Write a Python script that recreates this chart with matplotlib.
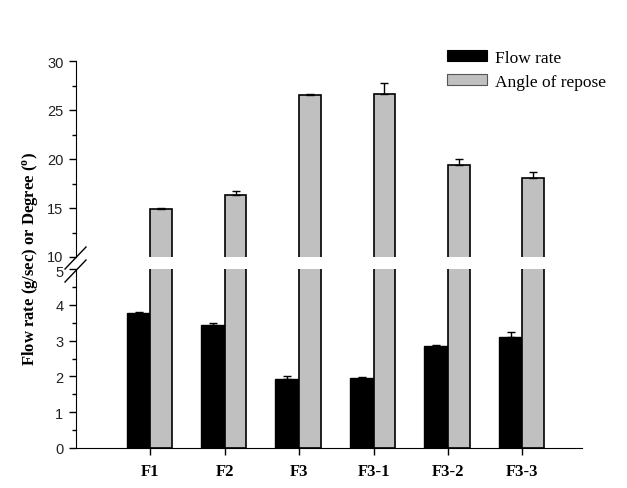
import numpy as np
import matplotlib
matplotlib.use('Agg')
from matplotlib import pyplot as plt
from matplotlib.lines import Line2D
from matplotlib.transforms import ScaledTranslation

categories = ['F1', 'F2', 'F3', 'F3-1', 'F3-2', 'F3-3']
flow_rate = [3.76, 3.43, 1.94, 1.95, 2.84, 3.11]
flow_err = [0.03, 0.07, 0.07, 0.02, 0.05, 0.13]
angle = [14.9, 16.3, 26.55, 26.65, 19.35, 18.05]
angle_err = [0.05, 0.48, 0.05, 1.1, 0.6, 0.6]

W, H = 627, 489
fig = plt.figure(figsize=(W/100, H/100), dpi=100)

def px_box(l, t, r, b):
    return [l/W, 1-b/H, (r-l)/W, (b-t)/H]

ax_top = fig.add_axes(px_box(76, 62, 582, 258))
ax_bot = fig.add_axes(px_box(76, 270, 582, 449))

x = np.arange(len(categories))
gray = '#c0c0c0'
serif_b = dict(family='Liberation Serif', size=12, weight='bold')

for ax in (ax_top, ax_bot):
    ax.bar(x, flow_rate, width=-0.32, align='edge', color='black', edgecolor='black', linewidth=1.0)
    ax.bar(x, angle, width=0.29, align='edge', color=gray, edgecolor='black', linewidth=1.2)
    ax.errorbar(x - 0.16, flow_rate, yerr=[np.zeros(len(x)), flow_err], fmt='none',
                ecolor='black', elinewidth=1.0, capsize=3.2, capthick=1.0)
    ax.errorbar(x + 0.145, angle, yerr=[np.zeros(len(x)), angle_err], fmt='none',
                ecolor='black', elinewidth=1.0, capsize=3.2, capthick=1.0)
    ax.set_xlim(-1.0, 5.8)
    ax.spines['top'].set_visible(False)
    ax.spines['right'].set_visible(False)
    ax.tick_params(axis='y', which='major', direction='out', length=5, width=1, labelsize=10.5,
                   labelcolor='#222222', pad=4)
    ax.tick_params(axis='y', which='minor', direction='out', length=3, width=1)

ax_top.set_ylim(10, 30)
ax_top.set_yticks([10, 15, 20, 25, 30])
ax_top.set_yticks([12.5, 17.5, 22.5, 27.5], minor=True)
ax_top.spines['bottom'].set_visible(False)
ax_top.set_xticks([])

ax_bot.set_ylim(0, 5)
ax_bot.set_yticks([0, 1, 2, 3, 4, 5])
ax_bot.set_yticks(np.arange(0.5, 5, 1.0), minor=True)
ax_bot.set_xticks(x)
ax_bot.set_xticklabels(categories, fontdict=serif_b)
ax_bot.tick_params(axis='x', direction='out', length=5, width=1, pad=6)

for ax in (ax_top, ax_bot):
    for lab in ax.get_yticklabels():
        lab.set_fontfamily('Liberation Sans')

# nudge the "10" and "5" labels apart a little, as in the original
lab10 = ax_top.yaxis.get_major_ticks()[0].label1
lab10.set_transform(lab10.get_transform() + ScaledTranslation(0, 1.5/100, fig.dpi_scale_trans))
lab5 = ax_bot.yaxis.get_major_ticks()[-1].label1
lab5.set_transform(lab5.get_transform() + ScaledTranslation(0, -1.5/100, fig.dpi_scale_trans))

# break marks on the y axis
for yc in (259, 272):
    fig.add_artist(Line2D([65/W, 86/W], [1-(yc+11)/H, 1-(yc-11)/H], color='black', lw=1.0))

fig.text(30/W, 1-259/H, 'Flow rate (g/sec) or Degree ($\\mathregular{^{o}}$)', rotation=90,
         ha='center', va='center', fontfamily='Liberation Serif', fontsize=12, fontweight='bold')

handles = [plt.Rectangle((0, 0), 1, 1, facecolor='black', edgecolor='black', lw=0.8),
           plt.Rectangle((0, 0), 1, 1, facecolor=gray, edgecolor='#555555', lw=0.8)]
fig.legend(handles, ['Flow rate', 'Angle of repose'], loc='upper left',
           bbox_to_anchor=(447/W, 1-51/H), frameon=False, borderpad=0, borderaxespad=0,
           handlelength=2.3, handleheight=0.6, handletextpad=0.45, labelspacing=0.45,
           prop=dict(family='Liberation Serif', size=12.5))

fig.savefig('out.png', dpi=100)
